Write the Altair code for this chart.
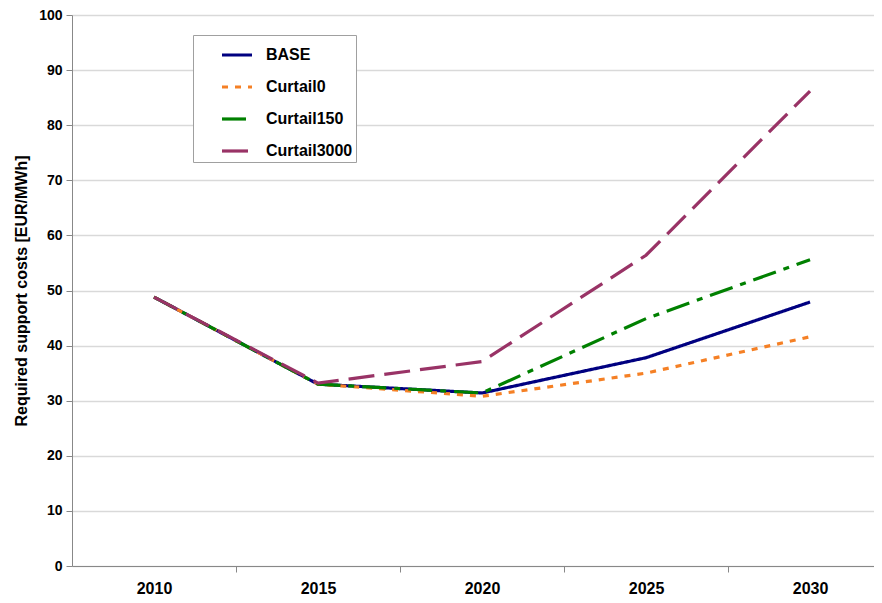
import altair as alt
import pandas as pd

years = [2010, 2015, 2020, 2025, 2030]
series = ["BASE", "Curtail0", "Curtail150", "Curtail3000"]
base = [48.8, 33.0, 31.4, 37.8, 47.9]
curtail0 = [48.8, 33.0, 30.8, 35.0, 41.6]
curtail150 = [48.8, 33.0, 31.4, 44.9, 55.6]
curtail3000 = [48.8, 33.2, 37.1, 56.4, 86.2]

colors = ["#000080", "#F58025", "#008000", "#993366"]
dashes = [[1, 0], [6, 7], [24, 8, 6, 8], [26, 10]]

y_ticks = [0, 10, 20, 30, 40, 50, 60, 70, 80, 90, 100]
x_ticks = [2010, 2012.5, 2015, 2017.5, 2020, 2022.5, 2025, 2027.5, 2030]

rows = []
for i, (name, vals) in enumerate(zip(series, [base, curtail0, curtail150, curtail3000])):
    for yr, v in zip(years, vals):
        rows.append({"year": yr, "value": v, "series": name, "order": i})
df = pd.DataFrame(rows)

FONT = "Liberation Sans"

chart = alt.Chart(df).mark_line(strokeWidth=3.2).encode(
    x=alt.X(
        "year:Q",
        scale=alt.Scale(domain=[2007.5, 2031.95], nice=False, zero=False),
        axis=alt.Axis(
            values=x_ticks,
            format="d",
            labelExpr="datum.value % 5 == 0 ? datum.label : ''",
            tickOpacity={"condition": {"test": "datum.value % 5 == 0", "value": 0}, "value": 1},
            grid=False,
            title=None,
            tickSize=6,
            labelPadding=8,
            labelFont=FONT,
            labelFontSize=16,
            labelFontWeight="bold",
            labelColor="#000000",
            domainColor="#888888",
            tickColor="#888888",
        ),
    ),
    y=alt.Y(
        "value:Q",
        scale=alt.Scale(domain=[0, 100], nice=False),
        axis=alt.Axis(
            values=y_ticks,
            title="Required support costs [EUR/MWh]",
            titleFont=FONT,
            titleFontSize=16,
            titleFontWeight="bold",
            titleColor="#000000",
            titlePadding=9,
            tickSize=6,
            labelPadding=4,
            labelFont=FONT,
            labelFontSize=14,
            labelFontWeight="bold",
            labelColor="#000000",
            domainColor="#888888",
            tickColor="#888888",
            gridColor="#D9D9D9",
            gridWidth=1.5,
        ),
    ),
    color=alt.Color("series:N", scale=alt.Scale(domain=series, range=colors), title=None),
    strokeDash=alt.StrokeDash("series:N", scale=alt.Scale(domain=series, range=dashes), title=None),
    order=alt.Order("order:Q"),
    detail="series:N",
).properties(
    width=802,
    height=551,
    autosize=alt.AutoSizeParams(type="none"),
    padding={"left": 64, "top": 7, "right": 0, "bottom": 29},
).configure_view(
    stroke=None
).configure_legend(
    orient="none",
    legendX=121,
    legendY=20,
    symbolType="stroke",
    symbolSize=900,
    symbolStrokeWidth=3.2,
    symbolOffset=24,
    labelFont=FONT,
    labelFontSize=16,
    labelFontWeight="bold",
    labelColor="#000000",
    labelOffset=12,
    fillColor="#FFFFFF",
    strokeColor="#A0A0A0",
    padding=3,
    rowPadding=7,
)

chart.save("out.html", embed_options={"renderer": "svg", "actions": False})
